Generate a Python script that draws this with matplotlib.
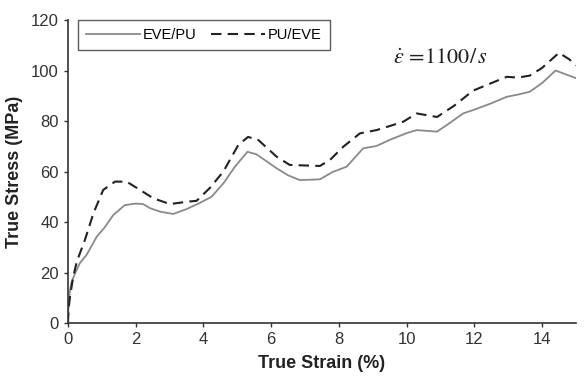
import matplotlib
matplotlib.use("Agg")
import matplotlib.pyplot as plt

# EVE/PU (solid grey)
eve_pu_strain = [0.0, 0.01, 0.05, 0.1, 0.21, 0.35, 0.55, 0.85, 1.09, 1.34, 1.68, 2.0, 2.22, 2.42, 2.72,
                 3.11, 3.5, 3.9, 4.24, 4.59, 4.93, 5.3, 5.57, 6.16, 6.5, 6.85, 7.44, 7.83, 8.23, 8.72,
                 9.11, 9.5, 10.0, 10.3, 10.9, 11.2, 11.67, 12.0, 12.5, 12.96, 13.3, 13.64, 14.0, 14.4,
                 14.7, 15.0]
eve_pu_stress = [0.0, 5.0, 12.0, 16.0, 19.7, 23.7, 27.0, 34.2, 38.0, 42.8, 46.7, 47.3, 47.1, 45.5, 44.1,
                 43.2, 45.1, 47.6, 50.0, 55.3, 61.9, 67.8, 66.8, 61.3, 58.5, 56.6, 56.9, 59.9, 61.9, 69.2,
                 70.1, 72.5, 75.2, 76.4, 75.8, 78.5, 83.0, 84.5, 87.0, 89.6, 90.5, 91.6, 95.0, 100.0,
                 98.5, 97.0]

# PU/EVE (dashed black)
pu_eve_strain = [0.0, 0.02, 0.06, 0.15, 0.26, 0.5, 0.75, 1.04, 1.39, 1.73, 2.13, 2.52, 3.01, 3.5, 3.8,
                 4.19, 4.59, 5.03, 5.32, 5.62, 6.16, 6.55, 7.44, 7.74, 8.13, 8.62, 9.11, 9.5, 9.9, 10.3,
                 10.9, 11.4, 11.96, 12.5, 12.96, 13.3, 13.64, 14.0, 14.5, 14.8, 15.0]
pu_eve_stress = [0.0, 6.0, 10.4, 18.0, 24.3, 32.9, 43.4, 52.7, 56.0, 56.0, 52.7, 49.4, 47.1, 48.0, 48.4,
                 53.5, 60.0, 70.5, 73.7, 72.5, 65.9, 62.6, 62.2, 64.6, 69.8, 75.1, 76.4, 78.0, 79.7, 83.0,
                 81.6, 86.0, 92.0, 95.0, 97.5, 97.2, 98.0, 101.0, 107.0, 104.5, 102.0]

x_ticks = [0, 2, 4, 6, 8, 10, 12, 14]
y_ticks = [0, 20, 40, 60, 80, 100, 120]

plt.rcParams["font.family"] = ["Liberation Sans", "DejaVu Sans"]
plt.rcParams["mathtext.fontset"] = "stix"

fig = plt.figure(figsize=(5.87, 3.85), dpi=100)
ax = fig.add_axes([0.1158, 0.161, 0.8652, 0.787])

ax.plot(eve_pu_strain, eve_pu_stress, color="#8a8a8a", linewidth=1.3,
        solid_joinstyle="round", label="EVE/PU")
ax.plot(pu_eve_strain, pu_eve_stress, color="#222222", linewidth=1.5,
        linestyle=(0, (5, 3)), dash_joinstyle="round", label="PU/EVE")

ax.set_xlim(0, 15)
ax.set_ylim(0, 120)
ax.set_xticks(x_ticks)
ax.set_yticks(y_ticks)
ax.tick_params(direction="out", length=3, width=1, labelsize=12, colors="#333333")
for side in ("top", "right"):
    ax.spines[side].set_visible(False)
for side in ("left", "bottom"):
    ax.spines[side].set_color("#333333")
    ax.spines[side].set_linewidth(1.2)

ax.set_xlabel("True Strain (%)", fontsize=13, fontweight="bold", color="#222222", labelpad=6)
ax.set_ylabel("True Stress (MPa)", fontsize=13, fontweight="bold", color="#222222", labelpad=6)

leg = ax.legend(loc="upper left", bbox_to_anchor=(0.02, 1.0), ncol=2, frameon=True, fancybox=False,
                fontsize=10.5, handlelength=3.7, handletextpad=0.2, columnspacing=1.0,
                borderpad=0.55, borderaxespad=0.0)
leg.get_frame().set_edgecolor("#333333")
leg.get_frame().set_linewidth(1.0)

ax.text(9.6, 103, r"$\dot{\varepsilon}\,=\!1100/\,s$", fontsize=16, color="#222222")

fig.savefig("out.png", dpi=100)
